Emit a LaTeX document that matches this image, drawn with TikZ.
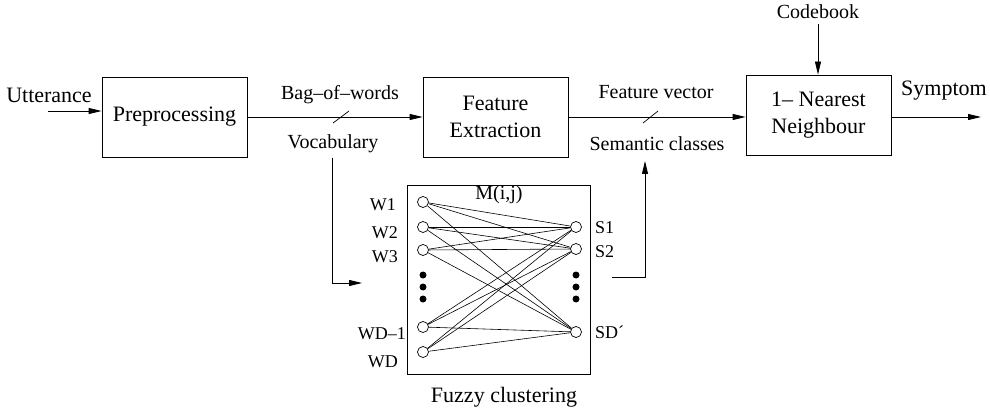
\documentclass[tikz,border=0pt]{standalone}
\usepackage{fontspec}
\setmainfont{Liberation Serif}
\usetikzlibrary{arrows.meta}

\tikzset{
  block/.style={draw, line width=0.8pt, minimum width=145pt, minimum height=80pt,
    align=center, font=\fontsize{22}{27}\selectfont},
  lbl/.style={font=\fontsize{20}{22}\selectfont, inner sep=0pt},
  biglbl/.style={font=\fontsize{22}{24}\selectfont, inner sep=0pt},
  smalllbl/.style={font=\fontsize{18}{20}\selectfont, inner sep=0pt},
  word/.style={circle, draw, line width=0.7pt, fill=white, minimum size=11pt, inner sep=0pt},
  dotpt/.style={circle, fill=black, minimum size=7pt, inner sep=0pt},
  flow/.style={-{Triangle[length=13pt,width=6pt]}, line width=0.8pt},
  link/.style={line width=0.6pt},
}

\begin{document}
\begin{tikzpicture}[x=1pt, y=-1pt]
  \useasboundingbox (0,0) rectangle (990,414);

  % Blocks
  \node[block] (pre) at (174.5,117) {Preprocessing};
  \node[block] (feat) at (495.5,117) {Feature\\Extraction};
  \node[block] (nn) at (818.5,115) {1-- Nearest\\Neighbour};

  % Input and output
  \node[biglbl] (utt) at (49,95) {Utterance};
  \coordinate (uttin) at (48,111);
  \draw[flow] (uttin) -- (pre.west |- uttin);

  \node[lbl] (code) at (818,12) {Codebook};
  \draw[flow] (code.south) ++(0,5) -- (nn.north -| code.south);

  \node[biglbl] (symp) at (944,91) {Symptom};
  \coordinate (out) at (981,117);
  \draw[flow] (nn.east |- out) -- (out);

  % Main chain
  \draw[flow] (pre.east) -- (feat.west);
  \draw[flow] (feat.east) -- (nn.west |- feat.east);

  \node[lbl] (bag) at (340,95) {Bag--of--words};
  \node[lbl] (voc) at (333,144) {Vocabulary};
  \draw[line width=0.7pt] (333,123) -- (349,111);

  \node[lbl] (fvec) at (656,92) {Feature vector};
  \node[lbl] (sem) at (657,144) {Semantic classes};
  \draw[line width=0.7pt] (643,123) -- (658,111);

  % Fuzzy clustering
  \node[draw, line width=0.7pt, minimum width=183pt, minimum height=189pt] (fuzzy) at (498.5,279.5) {};
  \node[lbl] (mij) at (499,195) {M(i,j)};
  \node[biglbl] (fzlbl) at (504,397) {Fuzzy clustering};

  \coordinate (vocdown) at (332,158);
  \coordinate (fzin) at (362,283);
  \draw[flow] (vocdown) |- (fzin);

  \coordinate (fzout) at (612,277);
  \coordinate (semup) at (645,161);
  \draw[flow] (fzout) -| (semup);

  % Words and classes
  \foreach \i/\y in {1/202, 2/227, 3/250, 4/327, 5/352}
    \node[word] (w\i) at (423,\y) {};
  \foreach \j/\y in {1/227, 2/249, 3/332}
    \node[word] (s\j) at (576,\y) {};
  \foreach \i in {1,...,5}
    \foreach \j in {1,2,3}
      \draw[link] (w\i) -- (s\j);
  \foreach \y in {275,287,299} {
    \node[dotpt] at (423,\y) {};
    \node[dotpt] at (576,\y) {};
  }

  \node[smalllbl, anchor=east] (lw1) at (396,205) {W1};
  \node[smalllbl, anchor=east] (lw2) at (398,233) {W2};
  \node[smalllbl, anchor=east] (lw3) at (398,257) {W3};
  \node[smalllbl, anchor=east] (lw4) at (406,334) {WD--1};
  \node[smalllbl, anchor=east] (lw5) at (398,362) {WD};
  \node[smalllbl, anchor=west] (ls1) at (595,228) {S1};
  \node[smalllbl, anchor=west] (ls2) at (595,252) {S2};
  \node[smalllbl, anchor=west] (ls3) at (595,332) {SD´};
\end{tikzpicture}
\end{document}
